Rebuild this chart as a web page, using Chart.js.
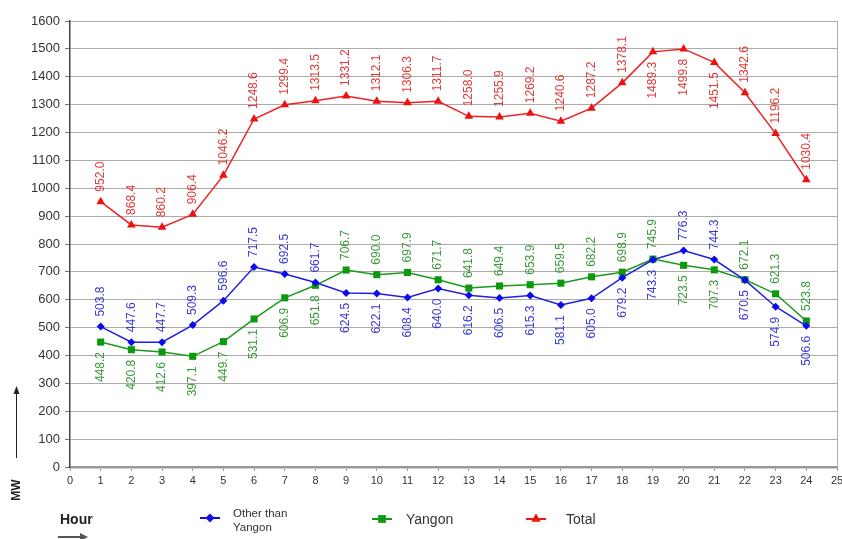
<!DOCTYPE html>
<html><head><meta charset="utf-8">
<script src="https://cdn.jsdelivr.net/npm/chart.js@4/dist/chart.umd.min.js"></script>
<style>html,body{margin:0;padding:0;background:#fff}#wrap{position:relative;width:842px;height:539px}</style>
</head><body><div id="wrap"><canvas id="c" width="842" height="539"></canvas></div>
<script>
const hours = [1,2,3,4,5,6,7,8,9,10,11,12,13,14,15,16,17,18,19,20,21,22,23,24];
const otherThanYangon = [503.8,447.6,447.7,509.3,596.6,717.5,692.5,661.7,624.5,622.1,608.4,640.0,616.2,606.5,615.3,581.1,605.0,679.2,743.3,776.3,744.3,670.5,574.9,506.6];
const yangon = [448.2,420.8,412.6,397.1,449.7,531.1,606.9,651.8,706.7,690.0,697.9,671.7,641.8,649.4,653.9,659.5,682.2,698.9,745.9,723.5,707.3,672.1,621.3,523.8];
const total = [952.0,868.4,860.2,906.4,1046.2,1248.6,1299.4,1313.5,1331.2,1312.1,1306.3,1311.7,1258.0,1255.9,1269.2,1240.6,1287.2,1378.1,1489.3,1499.8,1451.5,1342.6,1196.2,1030.4];
const seriesNames = ['Other than Yangon','Yangon','Total'];
const yAxisTitle = 'MW';
const xAxisTitle = 'Hour';

// label side: 'a' = above point, 'b' = below point
const sideOther = 'aaaaaaaabbbbbbbbbbbaabbb'.split('');
const sideYangon = 'bbbbbbbbaaaaaaaaaaabbaaa'.split('');
const sideTotal = 'aaaaaaaaaaaaaaaaaabbbaaa'.split('');

const toXY = arr => arr.map((v,i)=>({x:hours[i], y:v}));

const labelPlugin = {
  id:'rotLabels',
  afterDatasetsDraw(chart){
    const ctx = chart.ctx;
    const sides = [sideOther, sideYangon, sideTotal];
    const colors = ['#3a3ad8','#3a9a3a','#e23a3a'];
    chart.data.datasets.forEach((ds, di)=>{
      const meta = chart.getDatasetMeta(di);
      meta.data.forEach((el, i)=>{
        const v = ds.data[i].y.toFixed(1);
        const side = sides[di][i];
        ctx.save();
        ctx.font = '12px "Liberation Sans", Arial, sans-serif';
        ctx.fillStyle = colors[di];
        ctx.textBaseline = 'middle';
        const off = 10;
        if (side === 'a') {
          ctx.translate(el.x, el.y - off);
          ctx.rotate(-Math.PI/2);
          ctx.textAlign = 'left';
        } else {
          ctx.translate(el.x, el.y + off);
          ctx.rotate(-Math.PI/2);
          ctx.textAlign = 'right';
        }
        ctx.fillText(v, 0, 0);
        ctx.restore();
      });
    });
  }
};

function drawMarker(ctx, style, x, y, r, color){
  ctx.save();
  ctx.fillStyle = color; ctx.strokeStyle = color;
  ctx.beginPath();
  if (style==='rectRot'){ ctx.moveTo(x-r,y); ctx.lineTo(x,y-r); ctx.lineTo(x+r,y); ctx.lineTo(x,y+r); ctx.closePath(); }
  else if (style==='rect'){ const s=r*Math.SQRT1_2; ctx.rect(x-s,y-s,2*s,2*s); }
  else { const w=r*Math.sqrt(3); ctx.moveTo(x, y-r); ctx.lineTo(x+w/2, y+r/2); ctx.lineTo(x-w/2, y+r/2); ctx.closePath(); }
  ctx.fill();
  ctx.restore();
}

const decoPlugin = {
  id:'deco',
  afterDraw(chart){
    const ctx = chart.ctx;
    ctx.save();
    // MW arrow
    ctx.strokeStyle = '#222'; ctx.fillStyle = '#222'; ctx.lineWidth = 1;
    ctx.beginPath(); ctx.moveTo(16.5, 458); ctx.lineTo(16.5, 392); ctx.stroke();
    ctx.beginPath(); ctx.moveTo(16.5, 386); ctx.lineTo(13.5, 394); ctx.lineTo(19.5, 394); ctx.closePath(); ctx.fill();
    // MW title
    ctx.save();
    ctx.translate(17, 490); ctx.rotate(-Math.PI/2);
    ctx.font = 'bold 12px "Liberation Sans", Arial, sans-serif';
    ctx.textAlign='center'; ctx.textBaseline='middle'; ctx.fillStyle='#222';
    ctx.fillText(yAxisTitle, 0, 0);
    ctx.restore();
    // Hour title
    ctx.font = 'bold 14px "Liberation Sans", Arial, sans-serif';
    ctx.textAlign='left'; ctx.textBaseline='middle'; ctx.fillStyle='#222';
    ctx.fillText(xAxisTitle, 60, 520);
    // Hour arrow
    ctx.strokeStyle='#555'; ctx.fillStyle='#555'; ctx.lineWidth=2;
    ctx.beginPath(); ctx.moveTo(58, 537); ctx.lineTo(82, 537); ctx.stroke();
    ctx.beginPath(); ctx.moveTo(88, 537); ctx.lineTo(80, 533); ctx.lineTo(80, 541); ctx.closePath(); ctx.fill();
    // legend
    const items = [
      {x:200, y:518, color:'#1010e0', style:'rectRot', r:4.5, text:['Other than','Yangon'], tx:233, font:'11.5px'},
      {x:372, y:519, color:'#109a10', style:'rect', r:5.5, text:[seriesNames[1]], tx:406, font:'14px'},
      {x:526, y:519, color:'#ee1515', style:'triangle', r:5.5, text:[seriesNames[2]], tx:566, font:'14px'}
    ];
    items.forEach(it=>{
      ctx.strokeStyle = it.color; ctx.lineWidth = 2;
      ctx.beginPath(); ctx.moveTo(it.x, it.y); ctx.lineTo(it.x+20, it.y); ctx.stroke();
      drawMarker(ctx, it.style, it.x+10, it.y, it.r, it.color);
      ctx.font = it.font + ' "Liberation Sans", Arial, sans-serif';
      ctx.fillStyle = '#333'; ctx.textAlign='left'; ctx.textBaseline='middle';
      if (it.text.length === 2) {
        ctx.fillText(it.text[0], it.tx, 514);
        ctx.fillText(it.text[1], it.tx, 528);
      } else {
        ctx.fillText(it.text[0], it.tx, it.y + 1);
      }
    });
    ctx.restore();
  }
};

const chart = new Chart(document.getElementById('c'), {
  type:'line',
  data:{
    datasets:[
      {label:seriesNames[0], data:toXY(otherThanYangon), borderColor:'#2020e0', backgroundColor:'#0a0aee', borderWidth:1.5,
       pointStyle:'rectRot', pointRadius:4, pointBorderWidth:0, tension:0},
      {label:seriesNames[1], data:toXY(yangon), borderColor:'#1a9a1a', backgroundColor:'#0c990c', borderWidth:1.5,
       pointStyle:'rect', pointRadius:5, pointBorderWidth:0, tension:0},
      {label:seriesNames[2], data:toXY(total), borderColor:'#ee2222', backgroundColor:'#ee1111', borderWidth:1.5,
       pointStyle:'triangle', pointRadius:5, pointBorderWidth:0, tension:0}
    ]
  },
  options:{
    responsive:false, animation:false,
    layout:{padding:{left:0, right:5, top:21, bottom:50}},
    plugins:{legend:{display:false}, tooltip:{enabled:false}},
    scales:{
      x:{type:'linear', min:0, max:25,
        ticks:{stepSize:1, autoSkip:false, maxRotation:0, font:{size:11, family:'"Liberation Sans", Arial, sans-serif'}, color:'#333', padding:3,
          callback:v=>String(v)},
        grid:{drawOnChartArea:true, color:c=> (c.tick && c.tick.value===25) ? '#aaa' : 'rgba(0,0,0,0)', tickColor:'#999', tickLength:4},
        border:{color:'#999', width:2.5},
        afterFit:s=>{s.height=22; s.paddingRight=0; s.paddingLeft=0;}
      },
      y:{min:0, max:1600,
        ticks:{stepSize:100, font:{size:13, family:'"Liberation Sans", Arial, sans-serif'}, color:'#333', padding:5,
          callback:v=>String(v)},
        grid:{color:'#ababab', lineWidth:1, tickColor:'#777', tickLength:5},
        border:{color:'#444', width:1.5},
        afterFit:s=>{s.width=70; s.paddingTop=0; s.paddingBottom=0;}
      }
    }
  },
  plugins:[labelPlugin, decoPlugin]
});
</script></body></html>
